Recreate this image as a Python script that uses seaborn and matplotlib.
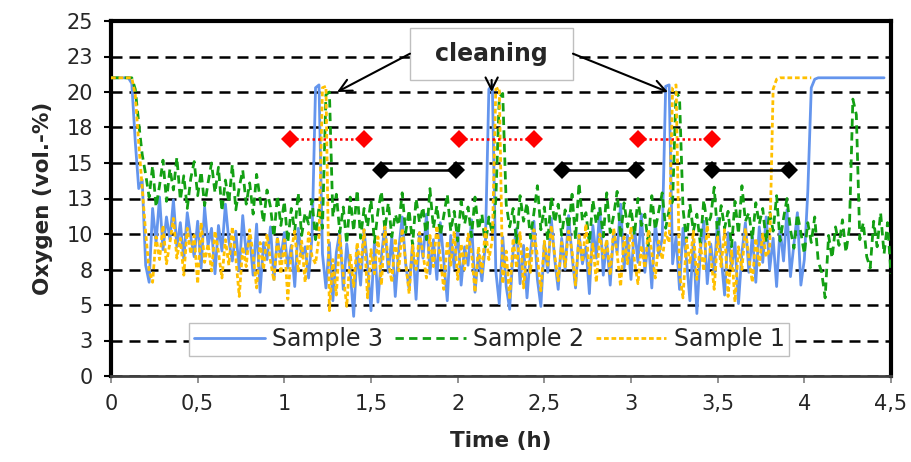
import numpy as np
import pandas as pd
import matplotlib
matplotlib.use("Agg")
import matplotlib.pyplot as plt
import seaborn as sns
from matplotlib.patches import Rectangle

# ---------------- data ----------------
step_h = 0.02  # sampling interval of the logged series (h)

sample3 = [
    21, 21, 21, 21, 21, 21, 20.6, 16.5, 13.2, 13.8,
    7.8, 6.6, 11.8, 9.4, 12.6, 8.9, 11.2, 9.6, 12.4, 9.1,
    10.8, 8.2, 11.5, 9.8, 8.4, 10.9, 7.6, 11.9, 9.2, 10.4,
    7.2, 10.6, 8.8, 12.1, 9.5, 8.1, 10.2, 7.4, 11.3, 8.6,
    9.9, 7.1, 10.7, 5.9, 9.4, 8.2, 10.5, 6.8, 9.7, 8.3,
    10.1, 7.6, 9.2, 6.3, 10.4, 8.4, 9.1, 6.9, 9.8, 20.3,
    20.5, 8.6, 6.2, 9.4, 5.3, 8.7, 10.2, 6.1, 9.3, 7.4,
    4.2, 8.9, 6.4, 10.3, 7.8, 4.6, 9.5, 5.2, 8.4, 10.6,
    7.3, 9.8, 5.6, 8.9, 11.2, 7.9, 6.1, 9.4, 5.4, 10.1,
    8.3, 11.4, 7.2, 9.6, 6.8, 10.8, 8.1, 5.3, 9.9, 7.6,
    10.3, 6.4, 9.1, 7.8, 11.0, 5.9, 8.6, 6.7, 9.3, 20.2,
    20.5, 7.4, 5.1, 9.8, 6.3, 4.7, 8.8, 10.4, 6.5, 9.2,
    5.5, 8.7, 10.9, 6.8, 4.9, 9.4, 7.3, 11.1, 8.2, 6.1,
    9.7, 7.5, 11.3, 8.4, 6.2, 10.0, 7.9, 9.1, 5.8, 10.6,
    8.3, 11.8, 7.1, 9.5, 6.4, 10.2, 8.7, 12.1, 7.6, 9.9,
    6.8, 10.5, 8.0, 11.4, 7.3, 9.6, 6.2, 10.8, 8.5, 9.7,
    20.4, 20.5, 7.9, 9.8, 6.1, 10.4, 8.2, 5.3, 9.6, 4.4,
    8.8, 10.9, 6.5, 9.3, 7.2, 11.1, 8.4, 5.7, 10.1, 7.6,
    9.4, 5.1, 8.7, 10.8, 7.3, 9.9, 6.6, 10.5, 8.0, 11.2,
    7.5, 9.7, 6.3, 10.4, 8.1, 11.7, 7.0, 9.3, 11.5, 6.4,
    8.2, 13.0, 20.3, 20.9, 21, 21, 21, 21, 21, 21,
    21, 21, 21, 21, 21, 21, 21, 21, 21, 21,
    21, 21, 21, 21,
]

sample2 = [
    21, 21, 21, 21, 21, 21, 21, 20.2, 17.8, 15.6,
    14.2, 12.6, 14.8, 11.9, 13.4, 15.2, 12.3, 14.6, 13.1, 15.4,
    12.4, 14.1, 11.8, 13.9, 15.1, 12.7, 14.4, 12.0, 13.6, 15.0,
    12.9, 14.7, 11.6, 13.8, 12.2, 14.9, 11.7, 13.3, 14.5, 12.1,
    13.6, 11.4, 14.2, 12.5, 10.8, 13.1, 11.9, 9.8, 12.7, 10.6,
    12.3, 9.4, 11.8, 10.2, 12.9, 9.9, 11.5, 10.7, 12.4, 9.6,
    11.9, 10.4, 19.8, 20.0, 11.2, 12.8, 10.1, 11.9, 9.3, 12.6,
    10.2, 13.1, 9.7, 11.8, 10.5, 12.4, 9.4, 11.6, 13.0, 10.3,
    12.2, 9.8, 11.4, 10.6, 12.9, 10.1, 11.7, 9.2, 12.5, 10.8,
    11.9, 9.6, 13.2, 10.4, 12.0, 9.9, 11.3, 12.8, 10.2, 11.6,
    9.5, 12.3, 10.7, 11.9, 9.8, 12.6, 10.3, 11.4, 9.1, 11.2,
    10.0, 12.4, 19.6, 19.9, 12.1, 10.5, 11.8, 9.4, 12.7, 10.9,
    12.2, 9.7, 11.5, 13.4, 10.3, 11.9, 9.5, 12.6, 10.8, 12.1,
    9.9, 11.7, 10.4, 12.8, 9.6, 13.6, 10.9, 11.5, 9.3, 12.4,
    10.7, 11.9, 9.8, 12.9, 10.1, 11.3, 13.0, 9.7, 12.2, 10.5,
    11.8, 9.9, 12.5, 10.6, 11.4, 9.2, 12.7, 10.3, 11.6, 12.9,
    10.4, 11.7, 12.3, 20.0, 19.6, 11.8, 9.5, 12.1, 10.2, 11.4,
    9.3, 12.4, 10.6, 11.2, 13.3, 9.8, 12.0, 10.4, 11.6, 9.1,
    12.3, 10.0, 13.4, 10.9, 11.5, 9.6, 12.2, 10.7, 11.8, 9.4,
    11.6, 10.2, 12.7, 9.5, 11.1, 12.5, 10.3, 9.0, 11.4, 10.1,
    8.6, 10.8, 9.4, 11.2, 8.1, 7.3, 5.5, 9.9, 8.3, 10.5,
    9.2, 11.0, 8.7, 10.4, 19.5, 18.4, 9.6, 10.8, 8.4, 7.6,
    10.9, 9.1, 11.5, 8.6, 10.8, 7.2,
]

sample1 = [
    21, 21, 21, 21, 21, 21, 21, 19.8, 16.4, 13.2,
    10.1, 7.4, 6.6, 9.8, 8.2, 10.6, 7.9, 9.4, 11.1, 8.3,
    9.7, 7.1, 10.4, 8.6, 9.9, 6.5, 10.8, 8.0, 9.3, 7.4,
    10.2, 8.7, 6.9, 9.6, 7.8, 10.5, 8.3, 5.6, 9.1, 7.7,
    10.3, 8.5, 6.2, 9.4, 7.5, 10.0, 8.1, 6.7, 9.8, 7.2,
    9.6, 5.4, 8.8, 10.2, 7.3, 9.5, 6.6, 10.1, 8.4, 7.9,
    9.8, 20.3, 20.4, 4.6, 8.2, 5.7, 9.9, 7.1, 4.9, 8.6,
    6.3, 9.4, 7.6, 10.3, 5.5, 8.9, 7.2, 9.8, 6.4, 10.5,
    8.1, 6.6, 9.7, 7.4, 10.4, 8.0, 5.8, 9.2, 7.5, 10.1,
    8.6, 6.9, 9.9, 7.7, 10.6, 8.3, 6.1, 9.5, 7.8, 10.2,
    6.8, 9.3, 7.5, 10.0, 8.7, 5.9, 9.1, 7.3, 10.4, 8.2,
    9.6, 20.2, 20.3, 6.5, 8.8, 5.4, 9.7, 7.6, 10.1, 6.2,
    9.0, 7.3, 10.3, 8.4, 6.0, 9.5, 7.8, 10.6, 8.5, 6.7,
    9.4, 7.7, 10.2, 8.8, 6.4, 9.9, 8.0, 10.7, 7.2, 9.3,
    6.6, 10.0, 8.3, 9.6, 7.1, 10.4, 8.6, 6.3, 9.8, 7.9,
    10.5, 8.1, 6.5, 9.2, 7.6, 10.3, 8.7, 6.9, 9.5, 8.2,
    10.1, 9.4, 20.3, 20.5, 7.2, 5.5, 9.6, 7.9, 10.2, 6.8,
    9.3, 7.4, 10.6, 8.5, 6.1, 9.8, 7.7, 10.3, 5.6, 8.9,
    5.2, 9.1, 7.5, 10.4, 8.3, 6.6, 9.7, 7.8, 10.0, 8.4,
    8.9, 20.2, 20.9, 21, 21, 21, 21, 21, 21, 21,
    21, 21, 21,
]

series_names = ["Sample 3", "Sample 2", "Sample 1"]

red_pairs_x = [(1.03, 1.46), (2.01, 2.44), (3.04, 3.47)]
red_level = 16.7
black_pairs_x = [(1.56, 1.99), (2.60, 3.03), (3.47, 3.91)]
black_level = 14.5

y_ticks = [0, 2.5, 5, 7.5, 10, 12.5, 15, 17.5, 20, 22.5, 25]
y_tick_labels = ["0", "3", "5", "8", "10", "13", "15", "18", "20", "23", "25"]
x_ticks = [0, 0.5, 1, 1.5, 2, 2.5, 3, 3.5, 4, 4.5]
x_tick_labels = ["0", "0,5", "1", "1,5", "2", "2,5", "3", "3,5", "4", "4,5"]

annotation_text = "cleaning"
x_label = "Time (h)"
y_label = "Oxygen (vol.-%)"

# ---------------- plot ----------------
sns.set_style("white")
plt.rcParams["font.family"] = ["DejaVu Sans"]

fig = plt.figure(figsize=(9.11, 4.62), dpi=100)
ax = fig.add_axes([111 / 911, 1 - 376 / 462, 780 / 911, 355 / 462])

styles = [
    dict(color="#6495ED", lw=2.0, ls="-"),
    dict(color="#13A013", lw=2.0, ls=(0, (3.0, 1.9))),
    dict(color="#FFC000", lw=2.0, ls=(0, (1.7, 1.0))),
]
for name, vals, st in zip(series_names, [sample3, sample2, sample1], styles):
    df = pd.DataFrame({"t": np.round(np.arange(len(vals)) * step_h, 2), "o2": vals})
    sns.lineplot(data=df, x="t", y="o2", ax=ax, color=st["color"], lw=st["lw"],
                 label=name, zorder=3)
    ax.lines[-1].set_linestyle(st["ls"])

for (a, b) in red_pairs_x:
    sns.lineplot(x=[a, b], y=[red_level, red_level], ax=ax, color="#FF0000",
                 lw=1.8, marker="D", markersize=9, markeredgewidth=0, zorder=4,
                 legend=False)
    ax.lines[-1].set_linestyle((0, (1, 1.2)))
for (a, b) in black_pairs_x:
    sns.lineplot(x=[a, b], y=[black_level, black_level], ax=ax, color="black",
                 lw=1.8, marker="D", markersize=9, markeredgewidth=0, zorder=4,
                 legend=False)

ax.set_xlim(0, 4.5)
ax.set_ylim(0, 25)
ax.set_yticks(y_ticks)
ax.set_yticklabels(y_tick_labels)
ax.set_xticks(x_ticks)
ax.set_xticklabels(x_tick_labels)
ax.tick_params(axis="y", direction="out", length=5, width=1.5, color="black",
               labelsize=15, pad=8, left=True)
ax.tick_params(axis="x", direction="out", length=5, width=1.2, color="#7f7f7f",
               labelsize=15, pad=8, bottom=True)

ax.grid(True, axis="y", color="black", lw=1.8, linestyle=(0, (4.4, 2.8)), zorder=1)
ax.grid(False, axis="x")
ax.set_axisbelow(True)

for side in ["left", "top", "right"]:
    ax.spines[side].set_visible(True)
    ax.spines[side].set_color("black")
    ax.spines[side].set_linewidth(3)
ax.spines["bottom"].set_color("#404040")
ax.spines["bottom"].set_linewidth(2)

ax.set_xlabel(x_label, fontsize=15.5, fontweight="bold", labelpad=12)
ax.set_ylabel(y_label, fontsize=15.5, fontweight="bold", labelpad=10)

# annotation box with arrows
ax.add_patch(Rectangle((1.725, 20.85), 0.94, 3.65, facecolor="white",
                       edgecolor="#BFBFBF", lw=1, zorder=5))
ax.text(2.195, 22.7, annotation_text, ha="center", va="center", fontsize=17,
        fontweight="bold", zorder=6)
arrow_kw = dict(arrowstyle="->", lw=1.5, color="black", mutation_scale=22,
                shrinkA=0, shrinkB=0)
ax.annotate("", xy=(1.304, 20.0), xytext=(1.725, 22.7), arrowprops=arrow_kw, zorder=6)
ax.annotate("", xy=(2.196, 20.0), xytext=(2.196, 20.85), arrowprops=arrow_kw, zorder=6)
ax.annotate("", xy=(3.213, 20.0), xytext=(2.665, 22.7), arrowprops=arrow_kw, zorder=6)

leg = ax.legend(loc="center", bbox_to_anchor=(0.485, 0.103), ncol=3, fontsize=17,
                frameon=True, fancybox=False, framealpha=1, edgecolor="#BFBFBF",
                borderpad=0.2, handlelength=3.0, handletextpad=0.3,
                columnspacing=0.5, borderaxespad=0)
leg.get_frame().set_linewidth(1)
leg.set_zorder(7)

fig.savefig("out.png", dpi=100, facecolor="white")
